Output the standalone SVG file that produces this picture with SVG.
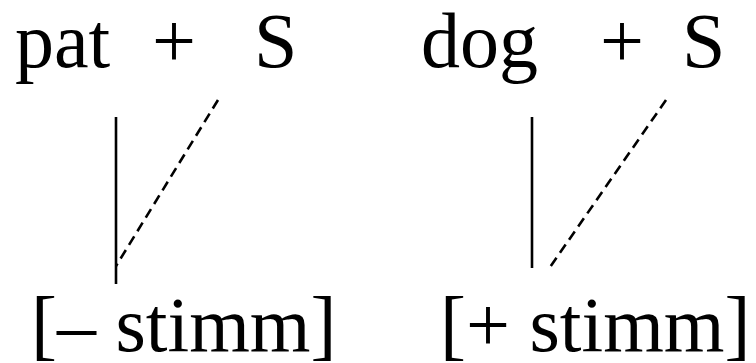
<svg xmlns="http://www.w3.org/2000/svg" width="756" height="363" viewBox="0 0 756 363">
<style>
text{font-family:"Liberation Serif","Times New Roman",serif;font-size:78px;fill:#000}
.solid{stroke:#000;stroke-width:2.6;fill:none}
.dash{stroke:#000;stroke-width:2.6;fill:none;stroke-dasharray:10 6}
</style>
<rect width="756" height="363" fill="#fff"/>
<g id="pat-node"><text x="15" y="67">pat</text><text x="152" y="67">+</text><text x="254" y="67">S</text></g>
<g id="dog-node"><text x="421" y="67">dog</text><text x="600" y="67">+</text><text x="682" y="67">S</text></g>
<g id="minus-stimm"><text x="31" y="351">[– stimm]</text></g>
<g id="plus-stimm"><text x="440" y="351">[+ stimm]</text></g>
<g id="connectors">
<line class="solid" x1="116" y1="117" x2="116" y2="284"/>
<line class="dash" x1="218" y1="100" x2="116" y2="266"/>
<line class="solid" x1="532" y1="117" x2="532" y2="268"/>
<line class="dash" x1="666" y1="100" x2="548" y2="270"/>
</g>
</svg>
